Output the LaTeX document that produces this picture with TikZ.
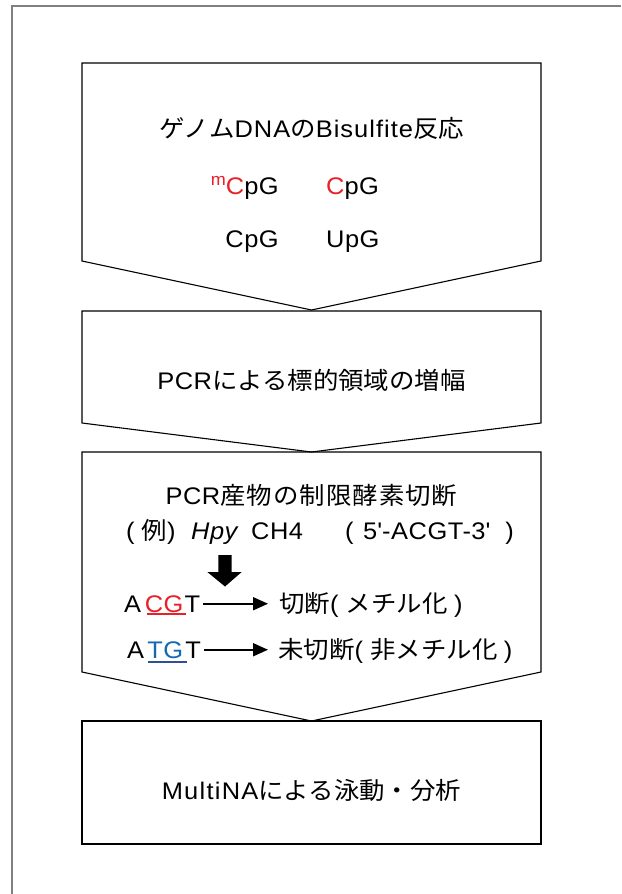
\documentclass[tikz,border=0pt]{standalone}
\usepackage{fontspec}
\setmainfont{Liberation Sans}[LetterSpace=2]
\newfontfamily\jp{Noto Sans CJK JP}
\newcommand\J[1]{{\jp #1}}
\newcommand\JS[1]{{\jp\addfontfeature{LetterSpace=4}#1}}
\newcommand\LS[2]{{\addfontfeature{LetterSpace=#1}#2}}
\newcommand\HX[1]{\scalebox{1.06}[1]{#1}}
\usetikzlibrary{arrows.meta}
\definecolor{cred}{RGB}{232,32,40}
\definecolor{cblue}{RGB}{20,105,180}
\definecolor{cblueu}{RGB}{45,80,150}
\begin{document}
\begin{tikzpicture}[x=1pt,y=-1pt,
  every node/.style={inner sep=0pt, font=\fontsize{24}{28}\selectfont},
  box/.style={draw=black, line width=1.1pt},
  frame/.style={draw=gray, line width=1.5pt},
  arr/.style={-{Triangle[length=15pt,width=13pt]}, line width=1.8pt},
  uline/.style={line width=1.4pt}]
\useasboundingbox[fill=white] (0,0) rectangle (621,894);
\draw[frame] (12,894) -- (12,6) -- (621,6);
% flow boxes
\draw[box] (82,63) -- (541,63) -- (541,261) -- (311.5,310) -- (82,261) -- cycle;
\draw[box] (82,311) -- (541,311) -- (541,423) -- (311.5,452) -- (82,423) -- cycle;
\draw[box] (82,452) -- (541,452) -- (541,672) -- (311.5,721) -- (82,672) -- cycle;
\draw[box] (82,721) rectangle (541,844);
% box 1
\node[anchor=base] (t1) at (311.5,137) {\HX{\J{ゲノム}\LS{4}{DNA}\J{の}\LS{4}{Bisulfite}\J{反応}}};
\node[anchor=base east] (mcpg) at (279,194) {\HX{\textcolor{cred}{\raisebox{9pt}{\fontsize{17}{17}\selectfont m}C}pG}};
\node[anchor=base west] (cpg1) at (326,194) {\HX{\textcolor{cred}{C}pG}};
\node[anchor=base east] (cpg2) at (279,247) {\HX{CpG}};
\node[anchor=base west] (upg) at (326,247) {\HX{UpG}};
% box 2
\node[anchor=base] (t2) at (311.5,389) {\HX{PCR\J{による標的領域の増幅}}};
% box 3
\node[anchor=base] (t3) at (311.5,504) {\HX{PCR\JS{産物の制限酵素切断}}};
\node[anchor=base west] (exa) at (126,539) {\HX{(\hspace{6.5pt}\J{例})}};
\node[anchor=base west] (exb) at (191,539) {\HX{\textit{Hpy}}};
\node[anchor=base west] (exc) at (251,539) {\HX{CH4}};
\node[anchor=base west] (exd) at (345,539) {\HX{(\hspace{9pt}5\textquotesingle-ACGT-3\textquotesingle\hspace{14pt})}};
\fill (218.3,555) -- (231.7,555) -- (231.7,572) -- (241.7,572) -- (225,586.5) -- (207.3,572) -- (218.3,572) -- cycle;
\node[anchor=base west] (acgt) at (124,612) {\HX{A\hspace{3.5pt}\textcolor{cred}{CG}\hspace{1pt}T}};
\node[anchor=base west] (cut) at (279,612) {\HX{\J{切断}(\hspace{7pt}\J{メチル化}\hspace{6pt})}};
\draw[cred, uline] (147,613.8) -- (186,613.8);
\draw[arr, shorten <=3pt, shorten >=11pt] (acgt.east) -- (acgt.east -| cut.west);
\node[anchor=base west] (atgt) at (127,658) {\HX{A\hspace{3pt}\textcolor{cblue}{TG}\hspace{2pt}T}};
\node[anchor=base west] (uncut) at (278,658) {\HX{\J{未切断}(\hspace{7pt}\J{非メチル化}\hspace{6pt})}};
\draw[cblueu, uline] (148,662) -- (187,662);
\draw[arr, shorten <=3pt, shorten >=10pt] (atgt.east) -- (atgt.east -| uncut.west);
% box 4
\node[anchor=base] (t4) at (311.5,799) {\HX{\LS{5}{MultiNA}\J{による泳動・分析}}};
\end{tikzpicture}
\end{document}
